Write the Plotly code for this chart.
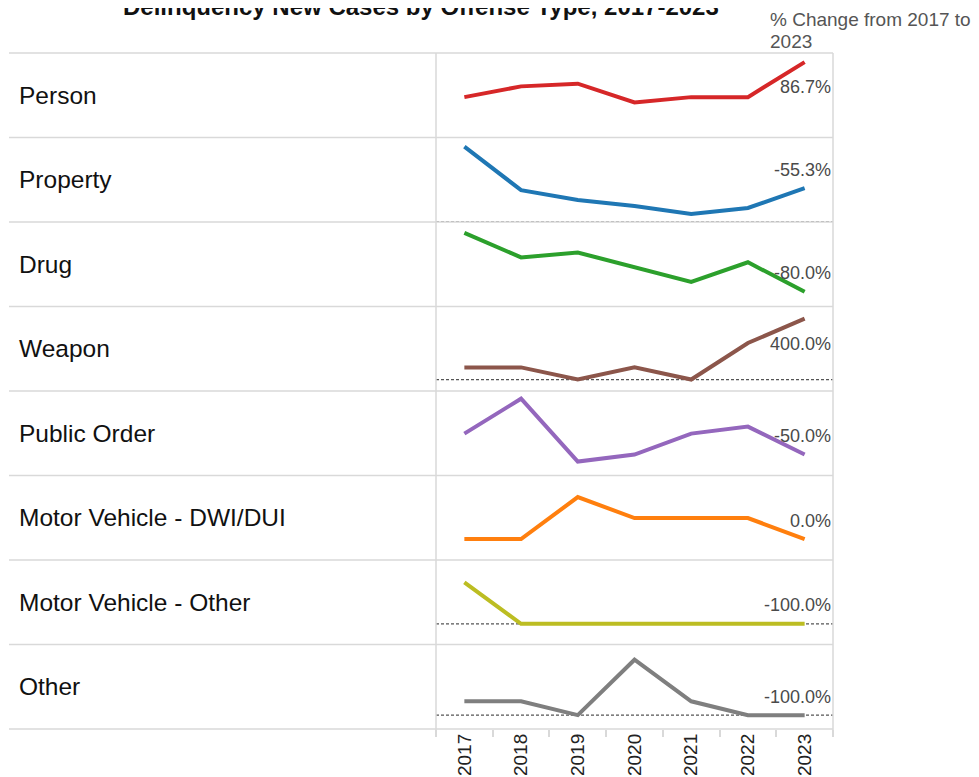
import plotly.graph_objects as go
from plotly.subplots import make_subplots

# ---------------- data ----------------
years = ["2017", "2018", "2019", "2020", "2021", "2022", "2023"]
offense_types = ["Person", "Property", "Drug", "Weapon", "Public Order",
                 "Motor Vehicle - DWI/DUI", "Motor Vehicle - Other", "Other"]
person = [15, 19, 20, 13, 15, 15, 28]
property_ = [38, 16, 11, 8, 4, 7, 17]
drug = [15, 10, 11, 8, 5, 9, 3]
weapon = [1, 1, 0, 1, 0, 3, 5]
public_order = [6, 11, 2, 3, 6, 7, 3]
mv_dwi = [1, 1, 3, 2, 2, 2, 1]
mv_other = [1, 0, 0, 0, 0, 0, 0]
other = [1, 1, 0, 4, 1, 0, 0]
series = [person, property_, drug, weapon, public_order, mv_dwi, mv_other, other]

title_text = "Delinquency New Cases by Offense Type, 2017-2023"
header_lines = ["% Change from 2017 to", "2023"]

# ---------------- styles ----------------
colors = ["#d62728", "#1f77b4", "#2ca02c", "#8c564b", "#9467bd",
          "#ff7f0e", "#bcbd22", "#7f7f7f"]
y_ranges = [[0, 31.4], [-0.1, 42.6], [0, 17.2], [-0.94, 6.0], [0, 12.1],
            [0, 4.03], [-0.5, 1.54], [-1.0, 5.1]]

OFF = 8                      # page body margin of the browser
WIN_W, WIN_H = 979, 777
W, H = WIN_W - OFF, WIN_H - OFF
L, R, T, B = 436, 833, 53, 729   # plot area in window pixels
FONT = "Liberation Sans, Arial, sans-serif"
GRID = "#d9d9d9"


def px_x(px):
    return (px - L) / (R - L)


def px_y(py):
    return (B - py) / (B - T)


n = len(offense_types)
fig = make_subplots(rows=n, cols=1, shared_xaxes=True, vertical_spacing=0)

for i, (name, vals, col) in enumerate(zip(offense_types, series, colors)):
    r = i + 1
    fig.add_trace(go.Scatter(x=years, y=vals, mode="lines", name=name,
                             line=dict(color=col, width=4),
                             showlegend=False, hoverinfo="x+y"),
                  row=r, col=1)
    fig.update_yaxes(range=y_ranges[i], showticklabels=False, showgrid=False,
                     zeroline=False, showline=False, fixedrange=True,
                     automargin=False, row=r, col=1)
    fig.update_xaxes(type="category", range=[-0.5, len(years) - 0.5],
                     showgrid=False, zeroline=False, showline=False,
                     automargin=False,
                     showticklabels=(r == n), row=r, col=1)
    yref = "y" if r == 1 else f"y{r}"
    xref = "x" if r == 1 else f"x{r}"
    # dashed zero line
    lo, hi = y_ranges[i]
    if lo < 0 < hi:
        fig.add_shape(type="line", xref="paper", yref=yref, x0=0, x1=1, y0=0, y1=0,
                      line=dict(color="#555555", width=1.2, dash="3px,2px"), layer="below")
    # % change label
    pct = (vals[-1] - vals[0]) / vals[0] * 100
    frac = (vals[-1] - lo) / (hi - lo)
    yshift = -25 if frac > 0.75 else 18.5
    fig.add_annotation(x=len(years) - 1, y=vals[-1], xref=xref, yref=yref,
                       text=f"{pct:.1f}%", showarrow=False, xanchor="right",
                       xshift=28, yshift=yshift,
                       font=dict(family=FONT, size=18, color="#4a4a4a"))
    # row label
    top = T + i * (B - T) / n
    bot = T + (i + 1) * (B - T) / n
    fig.add_annotation(x=px_x(17), y=px_y((top + bot) / 2), xref="paper", yref="paper",
                       text=name, showarrow=False, xanchor="left", yanchor="middle",
                       font=dict(family=FONT, size=24.5, color="#111111"))

# row separators
for k in range(n + 1):
    yy = px_y(T + k * (B - T) / n)
    fig.add_shape(type="line", xref="paper", yref="paper", x0=px_x(9), x1=1,
                  y0=yy, y1=yy, line=dict(color=GRID, width=1.5), layer="below")
# vertical frame lines
for xx in (0, 1):
    fig.add_shape(type="line", xref="paper", yref="paper", x0=xx, x1=xx,
                  y0=px_y(736), y1=1, line=dict(color=GRID, width=1.5), layer="below")

fig.update_xaxes(tickangle=-90, ticks="outside", tickson="boundaries", ticklen=7,
                 tickcolor=GRID, tickwidth=1.5,
                 tickfont=dict(family=FONT, size=19, color="#222222"),
                 row=n, col=1)

# title and header
fig.add_annotation(x=px_x(421), y=px_y(7), xref="paper", yref="paper",
                   text=f"<b>{title_text}</b>", showarrow=False,
                   xanchor="center", yanchor="middle",
                   font=dict(family=FONT, size=24, color="#111111"))
for line_text, py in zip(header_lines, (20, 41.5)):
    fig.add_annotation(x=px_x(768), y=px_y(py), xref="paper", yref="paper",
                       text=line_text, showarrow=False, xanchor="left", yanchor="middle",
                       font=dict(family=FONT, size=19, color="#555555"))

fig.update_layout(width=W, height=H,
                  margin=dict(l=L - OFF, r=WIN_W - R, t=T - OFF, b=WIN_H - B,
                              autoexpand=False),
                  paper_bgcolor="white", plot_bgcolor="white",
                  font=dict(family=FONT), showlegend=False)

fig.write_html("out.html")
